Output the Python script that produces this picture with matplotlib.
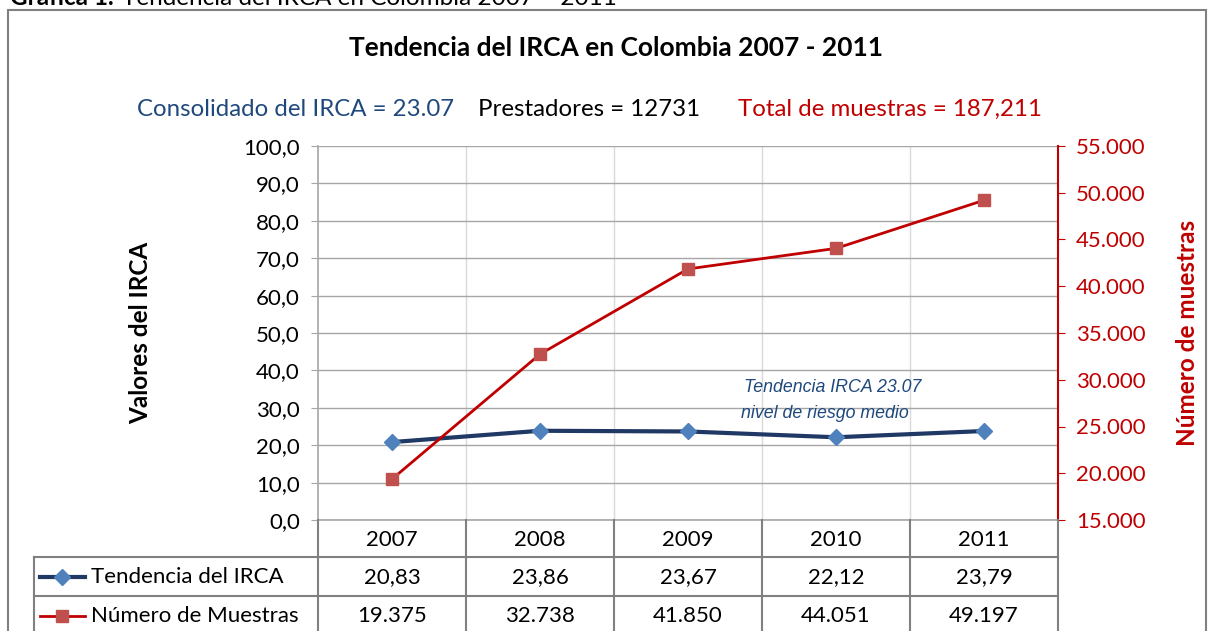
import matplotlib

matplotlib.use("Agg")
import matplotlib.pyplot as plt
from matplotlib.patches import Rectangle
from matplotlib.ticker import FuncFormatter, MultipleLocator

plt.rcParams.update({"font.family": ["Lato", "DejaVu Sans"]})

# ── Data ─────────────────────────────────────────────────────────────────────
years = ["2007", "2008", "2009", "2010", "2011"]
irca = [20.83, 23.86, 23.67, 22.12, 23.79]
muestras = [19375, 32738, 41850, 44051, 49197]
irca_labels = ["20,83", "23,86", "23,67", "22,12", "23,79"]
muestras_labels = ["19.375", "32.738", "41.850", "44.051", "49.197"]
series_names = ["Tendencia del IRCA", "Número de Muestras"]

# ── Colours ──────────────────────────────────────────────────────────────────
NAVY = "#1F3864"
BLUE_MK = "#4F81BD"
RED = "#C00000"
RED_MK = "#C0504D"
TXT_BLUE = "#1F497D"
GRID = "#A6A6A6"
VGRID = "#D9D9D9"
BORDER = "#808080"

FS_TICK = 16
FS_TAB = 16

W, H = 1214, 631
fig = plt.figure(figsize=(W / 100, H / 100), dpi=100)
fig.patch.set_facecolor("white")


def fx(px):
    return px / W


def fy(py):
    return 1 - py / H


# outer chart border
fig.patches.append(Rectangle((fx(8), fy(660)), fx(1198), 650 / H, transform=fig.transFigure,
                             fill=False, edgecolor=BORDER, linewidth=1.5))

# caption above the chart (cut at the top, as in the source)
t1 = fig.text(fx(10), fy(5), "Gráfica 1.", fontsize=17.5, fontweight="bold", va="baseline")
fig.canvas.draw()
bb = t1.get_window_extent()
fig.text((bb.x1 + 8) / W, fy(5), "Tendencia del IRCA en Colombia 2007 – 2011",
         fontsize=17.5, va="baseline")

# ── Main axes ────────────────────────────────────────────────────────────────
L, R, T, B = 318, 1058, 146, 520
ax = fig.add_axes([fx(L), fy(B), fx(R - L), (B - T) / H])
x = list(range(len(years)))
ax.set_xlim(-0.5, len(years) - 0.5)
ax.set_ylim(0, 100)
ax.yaxis.set_major_locator(MultipleLocator(10))
ax.yaxis.set_major_formatter(FuncFormatter(lambda v, p: f"{v:.1f}".replace(".", ",")))
ax.set_xticks([])
for xb in [i + 0.5 for i in x[:-1]]:
    ax.axvline(xb, color=VGRID, linewidth=1, zorder=0)
ax.grid(axis="y", color=GRID, linewidth=1, zorder=0)
ax.set_axisbelow(True)
ax.tick_params(axis="y", labelsize=FS_TICK, length=5, color=GRID, pad=8)
for s in ["top", "right"]:
    ax.spines[s].set_visible(False)
ax.spines["left"].set_color(GRID)
ax.spines["bottom"].set_color(GRID)
ax.spines["left"].set_linewidth(1.2)
ax.spines["bottom"].set_linewidth(1.2)
ax.set_ylabel("Valores del IRCA", fontsize=17.5, fontweight="bold", labelpad=66)

ax.plot(x, irca, color=NAVY, linewidth=3, marker="D", markersize=8,
        markerfacecolor=BLUE_MK, markeredgecolor=BLUE_MK, zorder=4)
ax.text(2.38, 35.3, "Tendencia IRCA 23.07", fontsize=12.8, style="italic", color=TXT_BLUE,
        family="Liberation Sans", va="center")
ax.text(2.36, 28.6, "nivel de riesgo medio", fontsize=12.8, style="italic", color=TXT_BLUE,
        family="Liberation Sans", va="center")

ax2 = ax.twinx()
ax2.set_ylim(15000, 55000)
ax2.yaxis.set_major_locator(MultipleLocator(5000))
ax2.yaxis.set_major_formatter(FuncFormatter(lambda v, p: f"{int(v):,}".replace(",", ".")))
ax2.tick_params(axis="y", labelsize=FS_TICK, length=5, color=RED, labelcolor=RED, pad=8)
for s in ["top", "left", "bottom"]:
    ax2.spines[s].set_visible(False)
ax2.spines["right"].set_color(RED)
ax2.spines["right"].set_linewidth(1.5)
ax2.set_ylabel("Número de muestras", fontsize=17.5, fontweight="bold", color=RED, labelpad=22)
ax2.plot(x, muestras, color=RED, linewidth=2, marker="s", markersize=9,
         markerfacecolor=RED_MK, markeredgecolor=RED_MK, zorder=4)

# ── Title and subtitle ───────────────────────────────────────────────────────
fig.text(fx(616), fy(48), "Tendencia del IRCA en Colombia 2007 - 2011", fontsize=19,
         fontweight="bold", ha="center", va="center")
fig.text(fx(137), fy(109), "Consolidado del IRCA = 23.07", fontsize=17.3, color=TXT_BLUE,
         ha="left", va="center")
fig.text(fx(478), fy(109), "Prestadores = 12731", fontsize=17.3, color="black",
         ha="left", va="center")
fig.text(fx(738), fy(109), "Total de muestras = 187,211", fontsize=17.3, color=RED,
         ha="left", va="center")

# ── Data table ───────────────────────────────────────────────────────────────
tax = fig.add_axes([fx(L), 0, fx(R - L), (H - B) / H])
tax.set_xlim(-0.5, len(years) - 0.5)
tax.set_ylim(H - B, 0)
tax.axis("off")
px_unit = (R - L) / len(years)


def tx(px):
    return -0.5 + (px - L) / px_unit


row_lines = [37, 76]
for xb in [i - 0.5 for i in range(len(years) + 1)]:
    tax.plot([xb, xb], [0, 120], color=BORDER, linewidth=1.5, clip_on=False)
for ry in row_lines:
    tax.plot([tx(34), len(years) - 0.5], [ry, ry], color=BORDER, linewidth=1.5, clip_on=False)
tax.plot([tx(34), tx(34)], [37, 120], color=BORDER, linewidth=1.5, clip_on=False)

for i, yr in enumerate(years):
    tax.text(i, 20, yr, ha="center", va="center", fontsize=FS_TAB)
    tax.text(i, 57, irca_labels[i], ha="center", va="center", fontsize=FS_TAB)
    tax.text(i, 96, muestras_labels[i], ha="center", va="center", fontsize=FS_TAB)

tax.plot([tx(40), tx(85)], [57, 57], color=NAVY, linewidth=3, clip_on=False)
tax.plot([tx(62)], [57], marker="D", markersize=8, color=BLUE_MK, clip_on=False)
tax.text(tx(91), 57, series_names[0], ha="left", va="center", fontsize=FS_TAB)
tax.plot([tx(40), tx(85)], [96, 96], color=RED, linewidth=2, clip_on=False)
tax.plot([tx(62)], [96], marker="s", markersize=9, color=RED_MK, clip_on=False)
tax.text(tx(91), 96, series_names[1], ha="left", va="center", fontsize=FS_TAB)

fig.savefig("out.png", dpi=100, facecolor="white")
